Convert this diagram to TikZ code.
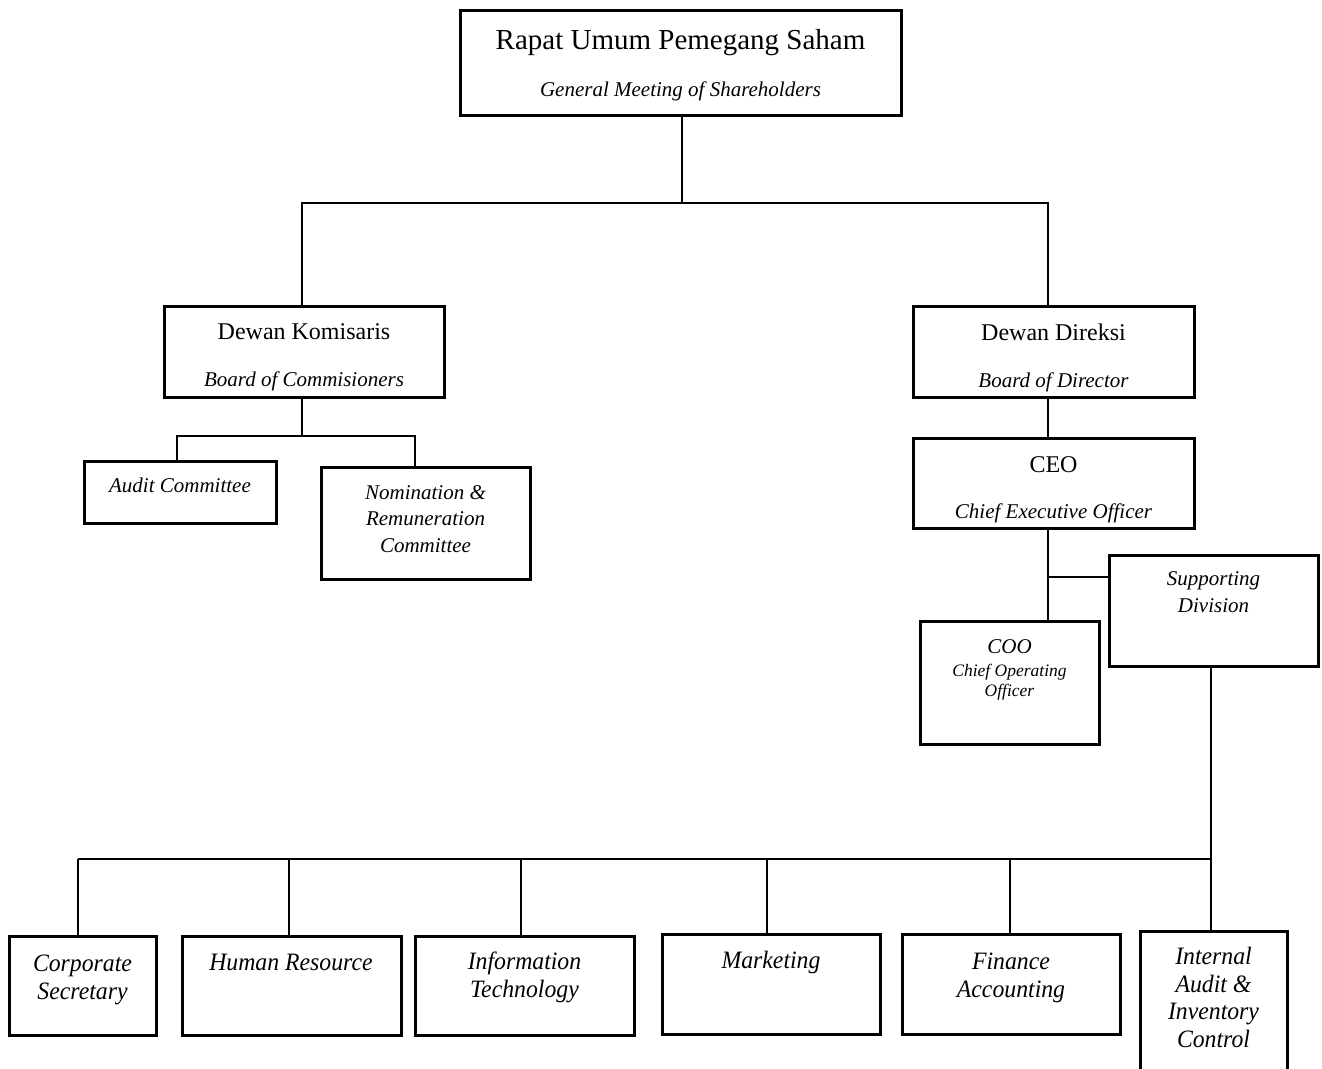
\documentclass[tikz,border=0pt]{standalone}
\usepackage{fontspec}
\setmainfont{Liberation Serif}
\newfontfamily\narrowserif[FakeStretch=0.95]{Liberation Serif}

\begin{document}
\begin{tikzpicture}[x=1pt,y=-1pt,
    box/.style 2 args={draw,line width=3pt,minimum width=#1,minimum height=#2,inner sep=0pt},
    txt/.style={anchor=base,align=center,inner sep=0pt},
    big/.style={txt,font=\fontsize{29}{34}\selectfont},
    head/.style={txt,font=\fontsize{24}{28}\selectfont},
    sub/.style={txt,font=\fontsize{21}{26.5}\selectfont\itshape},
    tiny/.style={txt,font=\fontsize{17.5}{20}\selectfont\itshape},
    unit/.style={txt,font=\narrowserif\itshape\fontsize{25}{27.5}\selectfont},
    line/.style={line width=1.3pt}]
    \useasboundingbox (0,0) rectangle (1322,1068);
    \clip (0,0) rectangle (1322,1068);
    % boxes
    \node[box={441}{105}] (rups) at (680.5,62.5) {};
    \node[box={280}{91}] (kom) at (304,351.5) {};
    \node[box={281}{91}] (dir) at (1053.5,351.5) {};
    \node[box={192}{62}] (audit) at (180,492) {};
    \node[box={209}{112}] (nom) at (425.5,523) {};
    \node[box={281}{90}] (ceo) at (1053.5,483) {};
    \node[box={209}{111}] (sup) at (1213.5,610.5) {};
    \node[box={179}{123}] (coo) at (1009.5,682.5) {};
    \node[box={147}{99}] (cs) at (82.5,985.5) {};
    \node[box={219}{99}] (hr) at (291.5,985.5) {};
    \node[box={219}{99}] (it) at (524.5,985.5) {};
    \node[box={218}{100}] (mkt) at (771,984) {};
    \node[box={218}{100}] (fin) at (1011,984) {};
    \node[box={147}{150}] (iaic) at (1213.5,1006) {};
    % texts
    \node[big] (rups-a) at (680.5,49) {Rapat Umum Pemegang Saham};
    \node[sub] (rups-b) at (680.5,96) {General Meeting of Shareholders};
    \node[head] (kom-a) at (304,339) {Dewan Komisaris};
    \node[sub] (kom-b) at (304,386) {Board of Commisioners};
    \node[head] (dir-a) at (1053.5,340) {Dewan Direksi};
    \node[sub] (dir-b) at (1053.5,387) {Board of Director};
    \node[sub] (audit-a) at (180,492) {Audit Committee};
    \node[sub] (nom-a) at (425.5,552) {Nomination \&\\Remuneration\\Committee};
    \node[head] (ceo-a) at (1053.5,472) {CEO};
    \node[sub] (ceo-b) at (1053.5,518) {Chief Executive Officer};
    \node[sub] (sup-a) at (1213.5,612) {Supporting\\Division};
    \node[sub] (coo-a) at (1009.5,653) {COO};
    \node[tiny] (coo-b) at (1009.5,696) {Chief Operating\\Officer};
    \node[unit] (cs-a) at (82.5,999) {Corporate\\Secretary};
    \node[unit] (hr-a) at (291,970) {Human Resource};
    \node[unit] (it-a) at (524.5,997) {Information\\Technology};
    \node[unit] (mkt-a) at (771,968) {Marketing};
    \node[unit] (fin-a) at (1011,997) {Finance\\Accounting};
    \node[unit] (iaic-a) at (1213.5,1047) {Internal\\Audit \&\\Inventory\\Control};
    % connectors
    \coordinate (top) at (682,203);
    \coordinate (kbus) at (302,436);
    \coordinate (cbus) at (1048,577);
    \coordinate (bus) at (1211,859);
    \draw[line] (rups.south -| top) -- (top);
    \draw[line] (kom.north -| kbus) -- (kbus |- top) -- (1048,203) -- (dir.north -| 1048,0);
    \draw[line] (kom.south -| kbus) -- (kbus);
    \draw[line] (audit.north -| 177,0) -- (177,436) -- (415,436) -- (nom.north -| 415,0);
    \draw[line] (dir.south -| 1048,0) -- (ceo.north -| 1048,0);
    \draw[line] (ceo.south -| cbus) -- (coo.north -| cbus);
    \draw[line] (cbus) -- (cbus -| sup.west);
    \draw[line] (sup.south -| bus) -- (iaic.north -| bus);
    \draw[line] (bus) -- (78,859);
    \foreach \b/\x in {cs/78,hr/289,it/521,mkt/767,fin/1010}
        \draw[line] (\x,859) -- (\b.north -| \x,0);
\end{tikzpicture}
\end{document}
